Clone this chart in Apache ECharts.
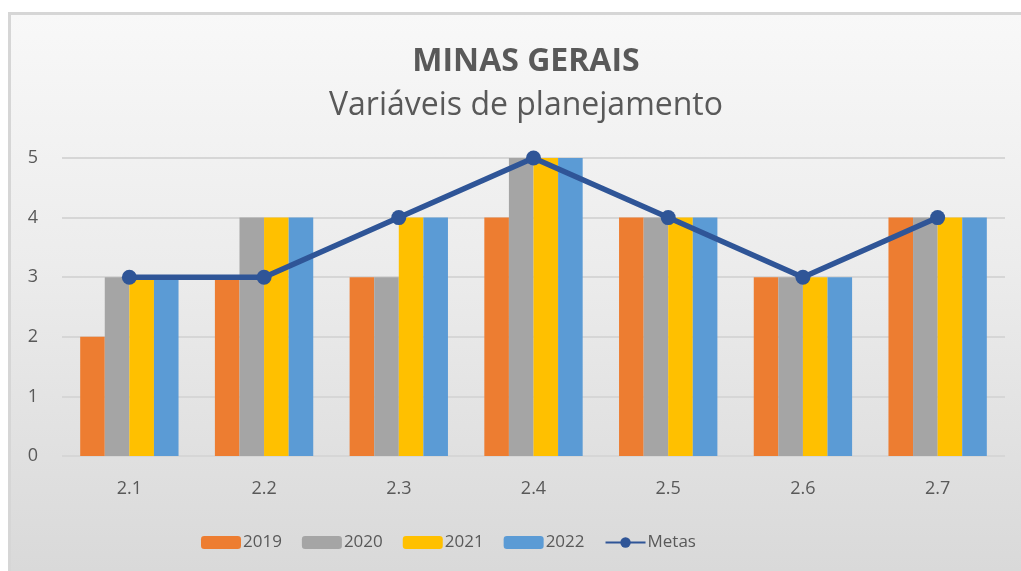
<!DOCTYPE html>
<html>
<head>
<meta charset="utf-8">
<script src="https://cdn.jsdelivr.net/npm/echarts@6/dist/echarts.min.js"></script>
<style>
  html, body { margin: 0; padding: 0; background: #ffffff; }
  .frame {
    position: absolute; left: 8px; top: 12px; width: 1013px; height: 559px;
    border-top: 3px solid #d6d6d6; border-left: 3px solid #d6d6d6;
    box-sizing: border-box;
    background: linear-gradient(to bottom, #f8f8f8 0%, #ececec 45%, #d9d9d9 100%);
  }
  #chart { position: absolute; left: 0; top: 0; width: 1021px; height: 571px; }
</style>
</head>
<body>
<div class="frame"></div>
<div id="chart"></div>
<script>
// categorias (variáveis)
const categories = ['2.1', '2.2', '2.3', '2.4', '2.5', '2.6', '2.7']
// valores por ano
const v2019 = [2, 3, 3, 4, 4, 3, 4]
const v2020 = [3, 4, 3, 5, 4, 3, 4]
const v2021 = [3, 4, 4, 5, 4, 3, 4]
const v2022 = [3, 4, 4, 5, 4, 3, 4]
// metas
const metas = [3, 3, 4, 5, 4, 3, 4]
const yTicks = [0, 1, 2, 3, 4, 5]

const font = '"Open Sans", "Noto Sans", sans-serif'
const textColor = '#595959'

const myChart = echarts.init(document.getElementById('chart'))

const barSeries = (name, data, color) => ({
  name,
  type: 'bar',
  data,
  barGap: 0,
  barCategoryGap: '27%',
  itemStyle: { color }
})

const options = {
  backgroundColor: 'transparent',
  title: {
    text: 'MINAS GERAIS',
    subtext: 'Variáveis de planejamento',
    left: 521,
    textAlign: 'center',
    top: 41,
    itemGap: 12,
    textStyle: { fontFamily: font, fontSize: 32, fontWeight: 'bold', color: textColor },
    subtextStyle: { fontFamily: font, fontSize: 32, color: textColor }
  },
  legend: {
    left: 196,
    top: 529,
    itemWidth: 40,
    itemHeight: 13,
    itemGap: 20,
    textStyle: { fontFamily: font, fontSize: 17, color: textColor, padding: [0, 0, 0, -3] },
    data: ['2019', '2020', '2021', '2022', 'Metas']
  },
  grid: { left: 62, right: 16, top: 158, bottom: 115 },
  xAxis: {
    type: 'category',
    data: categories,
    axisLine: { show: false },
    axisTick: { show: false },
    axisLabel: { margin: 24, fontFamily: font, fontSize: 18, color: textColor }
  },
  yAxis: {
    type: 'value',
    min: yTicks[0],
    max: yTicks[yTicks.length - 1],
    interval: 1,
    axisLine: { show: false },
    axisTick: { show: false },
    splitLine: { lineStyle: { color: '#d6d6d6', width: 2 } },
    axisLabel: { margin: 24, fontFamily: font, fontSize: 18, color: textColor }
  },
  series: [
    barSeries('2019', v2019, '#ed7d31'),
    barSeries('2020', v2020, '#a5a5a5'),
    barSeries('2021', v2021, '#ffc000'),
    barSeries('2022', v2022, '#5b9bd5'),
    {
      name: 'Metas',
      type: 'line',
      data: metas,
      symbol: 'circle',
      symbolSize: 15,
      z: 5,
      lineStyle: { color: '#2f5597', width: 5.5 },
      itemStyle: { color: '#2f5597' }
    }
  ]
}
myChart.setOption(options)
</script>
</body>
</html>
